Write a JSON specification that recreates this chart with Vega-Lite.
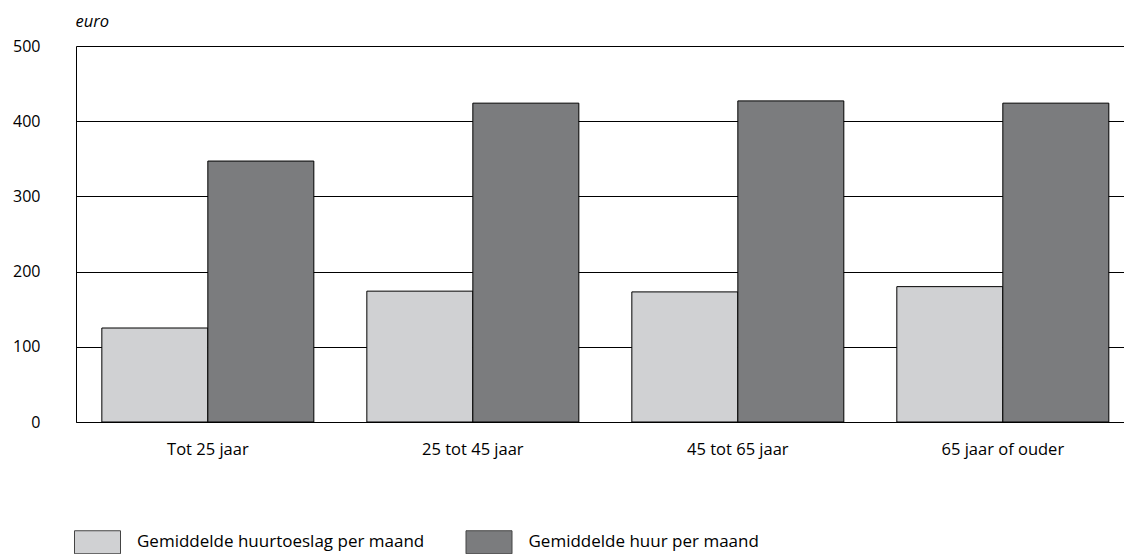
{
  "$schema": "https://vega.github.io/schema/vega-lite/v6.json",
  "width": 1048,
  "height": 376,
  "autosize": {"type": "none"},
  "padding": {"left": 76, "top": 46, "right": 0, "bottom": 132},
  "background": "white",
  "data": {
    "values": [
      {"groep": "Tot 25 jaar", "reeks": "Gemiddelde huurtoeslag per maand", "waarde": 125},
      {"groep": "Tot 25 jaar", "reeks": "Gemiddelde huur per maand", "waarde": 347},
      {"groep": "25 tot 45 jaar", "reeks": "Gemiddelde huurtoeslag per maand", "waarde": 174},
      {"groep": "25 tot 45 jaar", "reeks": "Gemiddelde huur per maand", "waarde": 424},
      {"groep": "45 tot 65 jaar", "reeks": "Gemiddelde huurtoeslag per maand", "waarde": 173},
      {"groep": "45 tot 65 jaar", "reeks": "Gemiddelde huur per maand", "waarde": 427},
      {"groep": "65 jaar of ouder", "reeks": "Gemiddelde huurtoeslag per maand", "waarde": 180},
      {"groep": "65 jaar of ouder", "reeks": "Gemiddelde huur per maand", "waarde": 424}
    ]
  },
  "mark": {"type": "bar", "stroke": "#000", "strokeWidth": 1},
  "encoding": {
    "x": {
      "field": "groep",
      "type": "nominal",
      "sort": ["Tot 25 jaar", "25 tot 45 jaar", "45 tot 65 jaar", "65 jaar of ouder"],
      "scale": {"paddingInner": 0.2, "paddingOuter": 0.0774, "align": 0.63},
      "axis": {
        "title": null,
        "labelAngle": 0,
        "ticks": false,
        "domainColor": "#000",
        "labelPadding": 19,
        "labelFont": "Open Sans",
        "labelFontSize": 16.5,
        "labelColor": "#000"
      }
    },
    "xOffset": {
      "field": "reeks",
      "type": "nominal",
      "sort": ["Gemiddelde huurtoeslag per maand", "Gemiddelde huur per maand"],
      "scale": {"paddingInner": 0, "paddingOuter": 0}
    },
    "y": {
      "field": "waarde",
      "type": "quantitative",
      "scale": {"domain": [0, 500], "nice": false},
      "axis": {
        "values": [0, 100, 200, 300, 400, 500],
        "title": "euro",
        "titleAngle": 0,
        "titleAlign": "left",
        "titleBaseline": "alphabetic",
        "titleX": -1,
        "titleY": -20,
        "titleFont": "Open Sans",
        "titleFontStyle": "italic",
        "titleFontWeight": "normal",
        "titleFontSize": 16.5,
        "titleColor": "#000",
        "ticks": false,
        "domainColor": "#000",
        "grid": true,
        "gridColor": "#000",
        "gridOpacity": 1,
        "labelPadding": 36,
        "labelFont": "Open Sans",
        "labelFontSize": 16,
        "labelColor": "#000"
      }
    },
    "color": {
      "field": "reeks",
      "type": "nominal",
      "sort": ["Gemiddelde huurtoeslag per maand", "Gemiddelde huur per maand"],
      "scale": {
        "domain": ["Gemiddelde huurtoeslag per maand", "Gemiddelde huur per maand"],
        "range": ["#d0d1d3", "#7b7c7e"]
      },
      "legend": {
        "title": null,
        "orient": "none",
        "direction": "horizontal",
        "legendX": 9.5,
        "legendY": 484,
        "symbolType": "M-2,-1H2V1H-2Z",
        "symbolSize": 529,
        "symbolStrokeColor": "#444",
        "symbolStrokeWidth": 1,
        "symbolOpacity": 1,
        "labelOffset": 27.5,
        "columnPadding": 39.5,
        "labelFont": "Open Sans",
        "labelFontSize": 17,
        "labelColor": "#000",
        "labelLimit": 400
      }
    }
  },
  "config": {"view": {"stroke": null}}
}
